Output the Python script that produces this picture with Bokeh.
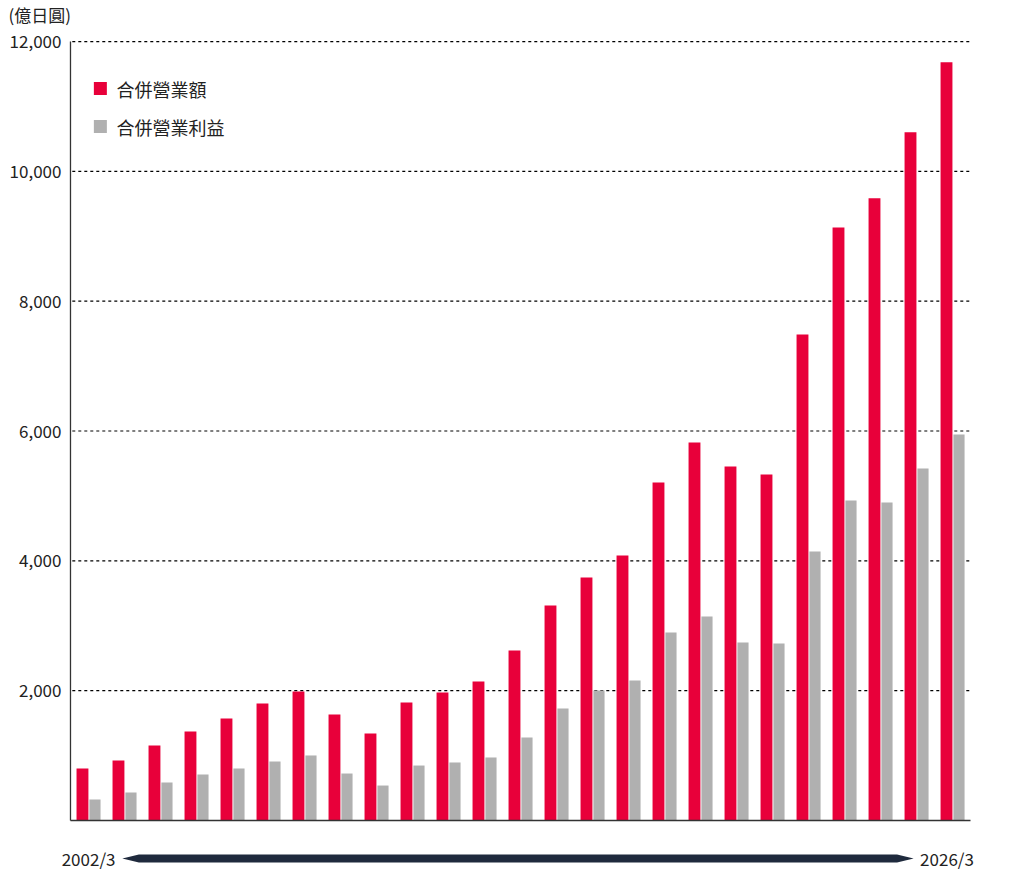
from bokeh.plotting import figure
from bokeh.models import Range1d
from bokeh.core.properties import value
from bokeh.embed import file_html
from bokeh.resources import INLINE

years = list(range(2002, 2027))
sales = [801, 924, 1156, 1371, 1572, 1803, 1988, 1633, 1340, 1818, 1972, 2142, 2619,
         3313, 3744, 4083, 5208, 5824, 5455, 5331, 7488, 9137, 9584, 10601, 11680]
profit = [324, 431, 586, 709, 801, 909, 1002, 724, 539, 847, 894, 971, 1279,
          1726, 2003, 2157, 2897, 3143, 2743, 2727, 4145, 4931, 4900, 5424, 5948]
yticks = [2000, 4000, 6000, 8000, 10000, 12000]
ytick_labels = [f"{v:,}" for v in yticks]
legend_labels = ["合併營業額", "合併營業利益"]
unit_label = "(億日圓)"
start_label, end_label = "2002/3", "2026/3"

FONT = value("Noto Sans CJK TC")
RED, GRAY, DARK = "#e8003a", "#b0b0b0", "#1f2a3d"

p = figure(width=1000, height=880, output_backend="svg", toolbar_location=None,
           x_range=Range1d(-1.944, 25.833), y_range=Range1d(-924, 12632),
           min_border=0, background_fill_color="white", border_fill_color="white")
p.outline_line_color = None
p.axis.visible = False
p.grid.visible = False

n = len(years)
xs = [i + 0.5 for i in range(n)]

p.segment(x0=[0.05] * len(yticks), x1=[25] * len(yticks), y0=yticks, y1=yticks,
          line_color="black", line_dash="3 3", line_width=1.2)
p.vbar(x=[x - 0.167 for x in xs], top=sales, width=0.33, bottom=0, fill_color=RED, line_color=None)
p.vbar(x=[x + 0.18 for x in xs], top=profit, width=0.31, bottom=0, fill_color=GRAY, line_color=None)
p.segment(x0=[0, 0], x1=[0, n], y0=[0, 0], y1=[12000, 0], line_color="#333333", line_width=1.3)
p.text(x=[-0.25] * len(yticks), y=yticks, text=ytick_labels, text_align="right",
       text_baseline="middle", text_font=FONT, text_font_size="17px", text_color="#222222")
p.text(x=[-1.72], y=[12413], text=[unit_label], text_align="left", text_baseline="middle",
       text_font=FONT, text_font_size="17px", text_color="#222222")
p.scatter(x=[0.83, 0.83], y=[11276, 10691], marker="square", size=13,
          fill_color=[RED, GRAY], line_color=None)
p.text(x=[1.28, 1.28], y=[11276, 10691], text=legend_labels, text_baseline="middle",
       text_font=FONT, text_font_size="18px", text_color="#222222")
p.text(x=[1.25], y=[-585], text=[start_label], text_align="right", text_baseline="middle",
       text_font=FONT, text_font_size="17px", text_color="#222222")
p.text(x=[23.6], y=[-585], text=[end_label], text_align="left", text_baseline="middle",
       text_font=FONT, text_font_size="17px", text_color="#222222")
p.patch(x=[1.44, 1.9, 22.96, 23.42, 22.96, 1.9], y=[-585, -525, -525, -585, -645, -645],
        fill_color=DARK, line_color=None)

open("out.html", "w").write(file_html(p, INLINE))
